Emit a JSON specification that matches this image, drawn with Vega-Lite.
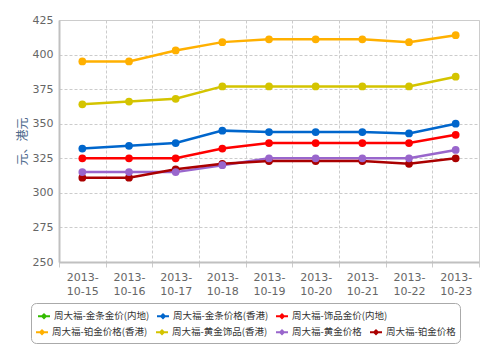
{
  "$schema": "https://vega.github.io/schema/vega-lite/v6.json",
  "width": 420,
  "height": 242,
  "autosize": {"type": "none"},
  "padding": {"left": 59, "top": 20, "right": 21, "bottom": 94},
  "background": "white",
  "config": {
    "view": {"stroke": "#cccccc", "strokeWidth": 1},
    "font": "Noto Sans CJK SC",
    "axis": {"labelFont": "DejaVu Sans", "labelColor": "#666666", "labelFontSize": 11, "domainColor": "#c0c0c0", "domainWidth": 2, "gridColor": "#cccccc", "gridDash": [3, 2], "gridWidth": 1},
    "legend": {"labelFont": "Noto Sans CJK SC", "labelFontSize": 9.5, "labelColor": "#333333", "labelOffset": 4, "columnPadding": 7, "rowPadding": 4, "symbolSize": 144, "symbolStrokeWidth": 0, "labelLimit": 300}
  },
  "data": {
    "values": [
      {"date": "2013-10-15", "series": "周大福-铂金价格(香港)", "price": 395},
      {"date": "2013-10-16", "series": "周大福-铂金价格(香港)", "price": 395},
      {"date": "2013-10-17", "series": "周大福-铂金价格(香港)", "price": 403},
      {"date": "2013-10-18", "series": "周大福-铂金价格(香港)", "price": 409},
      {"date": "2013-10-19", "series": "周大福-铂金价格(香港)", "price": 411},
      {"date": "2013-10-20", "series": "周大福-铂金价格(香港)", "price": 411},
      {"date": "2013-10-21", "series": "周大福-铂金价格(香港)", "price": 411},
      {"date": "2013-10-22", "series": "周大福-铂金价格(香港)", "price": 409},
      {"date": "2013-10-23", "series": "周大福-铂金价格(香港)", "price": 414},
      {"date": "2013-10-15", "series": "周大福-黄金饰品(香港)", "price": 364},
      {"date": "2013-10-16", "series": "周大福-黄金饰品(香港)", "price": 366},
      {"date": "2013-10-17", "series": "周大福-黄金饰品(香港)", "price": 368},
      {"date": "2013-10-18", "series": "周大福-黄金饰品(香港)", "price": 377},
      {"date": "2013-10-19", "series": "周大福-黄金饰品(香港)", "price": 377},
      {"date": "2013-10-20", "series": "周大福-黄金饰品(香港)", "price": 377},
      {"date": "2013-10-21", "series": "周大福-黄金饰品(香港)", "price": 377},
      {"date": "2013-10-22", "series": "周大福-黄金饰品(香港)", "price": 377},
      {"date": "2013-10-23", "series": "周大福-黄金饰品(香港)", "price": 384},
      {"date": "2013-10-15", "series": "周大福-金条价格(香港)", "price": 332},
      {"date": "2013-10-16", "series": "周大福-金条价格(香港)", "price": 334},
      {"date": "2013-10-17", "series": "周大福-金条价格(香港)", "price": 336},
      {"date": "2013-10-18", "series": "周大福-金条价格(香港)", "price": 345},
      {"date": "2013-10-19", "series": "周大福-金条价格(香港)", "price": 344},
      {"date": "2013-10-20", "series": "周大福-金条价格(香港)", "price": 344},
      {"date": "2013-10-21", "series": "周大福-金条价格(香港)", "price": 344},
      {"date": "2013-10-22", "series": "周大福-金条价格(香港)", "price": 343},
      {"date": "2013-10-23", "series": "周大福-金条价格(香港)", "price": 350},
      {"date": "2013-10-15", "series": "周大福-饰品金价(内地)", "price": 325},
      {"date": "2013-10-16", "series": "周大福-饰品金价(内地)", "price": 325},
      {"date": "2013-10-17", "series": "周大福-饰品金价(内地)", "price": 325},
      {"date": "2013-10-18", "series": "周大福-饰品金价(内地)", "price": 332},
      {"date": "2013-10-19", "series": "周大福-饰品金价(内地)", "price": 336},
      {"date": "2013-10-20", "series": "周大福-饰品金价(内地)", "price": 336},
      {"date": "2013-10-21", "series": "周大福-饰品金价(内地)", "price": 336},
      {"date": "2013-10-22", "series": "周大福-饰品金价(内地)", "price": 336},
      {"date": "2013-10-23", "series": "周大福-饰品金价(内地)", "price": 342},
      {"date": "2013-10-15", "series": "周大福-黄金价格", "price": 315},
      {"date": "2013-10-16", "series": "周大福-黄金价格", "price": 315},
      {"date": "2013-10-17", "series": "周大福-黄金价格", "price": 315},
      {"date": "2013-10-18", "series": "周大福-黄金价格", "price": 320},
      {"date": "2013-10-19", "series": "周大福-黄金价格", "price": 325},
      {"date": "2013-10-20", "series": "周大福-黄金价格", "price": 325},
      {"date": "2013-10-21", "series": "周大福-黄金价格", "price": 325},
      {"date": "2013-10-22", "series": "周大福-黄金价格", "price": 325},
      {"date": "2013-10-23", "series": "周大福-黄金价格", "price": 331},
      {"date": "2013-10-15", "series": "周大福-铂金价格", "price": 311},
      {"date": "2013-10-16", "series": "周大福-铂金价格", "price": 311},
      {"date": "2013-10-17", "series": "周大福-铂金价格", "price": 317},
      {"date": "2013-10-18", "series": "周大福-铂金价格", "price": 321},
      {"date": "2013-10-19", "series": "周大福-铂金价格", "price": 323},
      {"date": "2013-10-20", "series": "周大福-铂金价格", "price": 323},
      {"date": "2013-10-21", "series": "周大福-铂金价格", "price": 323},
      {"date": "2013-10-22", "series": "周大福-铂金价格", "price": 321},
      {"date": "2013-10-23", "series": "周大福-铂金价格", "price": 325}
    ]
  },
  "encoding": {
    "x": {
      "field": "date", "type": "ordinal", "title": null,
      "scale": {"paddingInner": 0, "paddingOuter": 0},
      "axis": {"labelAngle": 0, "labelExpr": "isValid(datum.value) ? [substring(datum.value, 0, 5), substring(datum.value, 5)] : ''", "labelLineHeight": 14, "labelPadding": 4, "ticks": true, "tickBand": "extent", "tickSize": 5, "tickColor": "#cccccc", "grid": true, "labelBaseline": "top"}
    },
    "y": {
      "field": "price", "type": "quantitative",
      "scale": {"domain": [250, 425], "nice": false, "zero": false},
      "axis": {"values": [250, 275, 300, 325, 350, 375, 400, 425], "ticks": false, "labelPadding": 6, "title": "元、港元", "titleColor": "#4d6a8c", "titleFontSize": 12, "titleFontWeight": "normal", "titlePadding": 3, "grid": true}
    },
    "order": {"field": "series"}
  },
  "layer": [
    {
      "transform": [{"filter": {"field": "series", "oneOf": ["周大福-金条金价(内地)", "周大福-金条价格(香港)", "周大福-饰品金价(内地)"]}}],
      "mark": {"type": "line", "strokeWidth": 2.5, "point": {"filled": true, "size": 60, "opacity": 1}},
      "encoding": {
        "color": {
          "field": "series", "type": "nominal",
          "scale": {
            "domain": ["周大福-金条金价(内地)", "周大福-金条价格(香港)", "周大福-饰品金价(内地)", "占位占位-", " ", "  ", "   ", "    "],
            "range": ["#33bb00", "#0066cc", "#ff0000", "rgba(0,0,0,0)", "rgba(0,0,0,0)", "rgba(0,0,0,0)", "rgba(0,0,0,0)", "rgba(0,0,0,0)"]
          },
          "legend": {
            "title": null, "orient": "none", "legendX": -28, "legendY": 283,
            "columns": 4, "direction": "horizontal",
            "strokeColor": "#aaaaaa", "cornerRadius": 5, "padding": 7, "fillColor": "white",
            "symbolType": "M-1,-0.15H1V0.15H-1Z M0,-0.55L0.55,0L0,0.55L-0.55,0Z",
            "encode": {
              "symbols": {"update": {"fill": {"scale": "color", "field": "value"}, "opacity": {"value": 1}}},
              "labels": {"update": {"opacity": {"signal": "datum.value === '占位占位-' ? 0 : 1"}}}
            }
          }
        }
      }
    },
    {
      "transform": [{"filter": {"field": "series", "oneOf": ["周大福-铂金价格(香港)", "周大福-黄金饰品(香港)", "周大福-黄金价格", "周大福-铂金价格"]}}],
      "mark": {"type": "line", "strokeWidth": 2.5, "point": {"filled": true, "size": 60, "opacity": 1}},
      "encoding": {
        "color": {
          "field": "series", "type": "nominal",
          "scale": {
            "domain": ["周大福-铂金价格(香港)", "周大福-黄金饰品(香港)", "周大福-黄金价格", "周大福-铂金价格"],
            "range": ["#ffb000", "#d4c400", "#9966cc", "#aa0000"]
          },
          "legend": {
            "title": null, "orient": "none", "legendX": -23, "legendY": 306,
            "columns": 4, "direction": "horizontal", "padding": 0, "columnPadding": 8,
            "symbolType": "M-1,-0.15H1V0.15H-1Z M0,-0.55L0.55,0L0,0.55L-0.55,0Z",
            "encode": {"symbols": {"update": {"fill": {"scale": "color_1", "field": "value"}, "opacity": {"value": 1}}}}
          }
        }
      }
    }
  ],
  "resolve": {"scale": {"color": "independent"}, "legend": {"color": "independent"}}
}
